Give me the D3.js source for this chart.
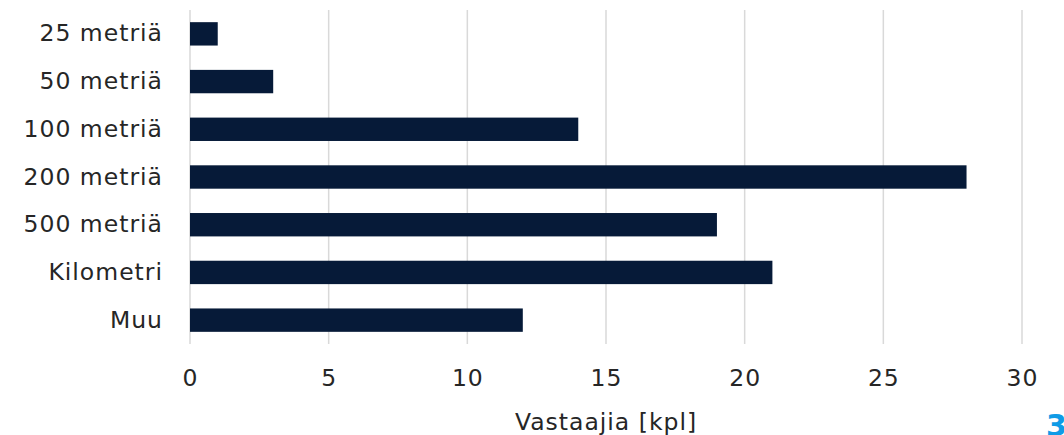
<!DOCTYPE html>
<html>
<head>
<meta charset="utf-8">
<script src="https://cdn.jsdelivr.net/npm/d3@7"></script>
<style>
  body { margin: 0; background: #fff; }
  text { font-family: "DejaVu Sans", Verdana, sans-serif; fill: #262626; }
</style>
</head>
<body>
<div id="chart"></div>
<script>
let categories = ["25 metriä", "50 metriä", "100 metriä", "200 metriä", "500 metriä", "Kilometri", "Muu"];
let counts = [1, 3, 14, 28, 19, 21, 12];
let xTicks = [0, 5, 10, 15, 20, 25, 30];
let xTitle = "Vastaajia [kpl]";

let totalWidth = 1064, totalHeight = 435;
let plot = {left: 190, right: 1022, top: 10, bottom: 344};
let fontSize = "23.5px";

let svg = d3.select("#chart").append("svg")
    .attr("width", totalWidth)
    .attr("height", totalHeight);

let xScale = d3.scaleLinear()
    .domain([0, 30])
    .range([plot.left, plot.right]);

let yScale = d3.scaleBand()
    .domain(categories)
    .range([plot.top, plot.bottom])
    .paddingInner(0.51)
    .paddingOuter(0.255);

// vertical gridlines
svg.append("g")
    .selectAll("line")
    .data(xTicks)
    .enter()
    .append("line")
    .attr("x1", d => xScale(d))
    .attr("x2", d => xScale(d))
    .attr("y1", plot.top)
    .attr("y2", plot.bottom)
    .attr("stroke", "#d9d9d9")
    .attr("stroke-width", 1.5);

// bars
svg.append("g")
    .selectAll("rect")
    .data(categories)
    .enter()
    .append("rect")
    .attr("x", xScale(0))
    .attr("y", d => yScale(d))
    .attr("width", (d, i) => xScale(counts[i]) - xScale(0))
    .attr("height", yScale.bandwidth())
    .attr("fill", "#061a38");

// x axis labels
let xAxis = d3.axisBottom(xScale).tickValues(xTicks).tickSize(0).tickPadding(25);
let gx = svg.append("g")
    .attr("transform", "translate(0," + plot.bottom + ")")
    .call(xAxis);
gx.select(".domain").remove();
gx.selectAll("text")
    .style("font-size", fontSize)
    .style("font-family", "DejaVu Sans, Verdana, sans-serif")
    .style("letter-spacing", "1px")
    .attr("fill", "#262626");

// y axis labels
let yAxis = d3.axisLeft(yScale).tickSize(0).tickPadding(27);
let gy = svg.append("g")
    .attr("transform", "translate(" + plot.left + ",0)")
    .call(yAxis);
gy.select(".domain").remove();
gy.selectAll("text")
    .style("font-size", fontSize)
    .style("font-family", "DejaVu Sans, Verdana, sans-serif")
    .style("letter-spacing", "1px")
    .attr("fill", "#262626");

// axis title
svg.append("text")
    .attr("x", (plot.left + plot.right) / 2)
    .attr("y", 430)
    .attr("text-anchor", "middle")
    .style("font-size", fontSize)
    .style("letter-spacing", "1px")
    .text(xTitle);

// page number, cut off at the edge like in the slide
svg.append("text")
    .attr("x", 1046)
    .attr("y", 436)
    .style("font-size", "30px")
    .style("font-weight", "bold")
    .style("fill", "#0f9be6")
    .text("3");
</script>
</body>
</html>
